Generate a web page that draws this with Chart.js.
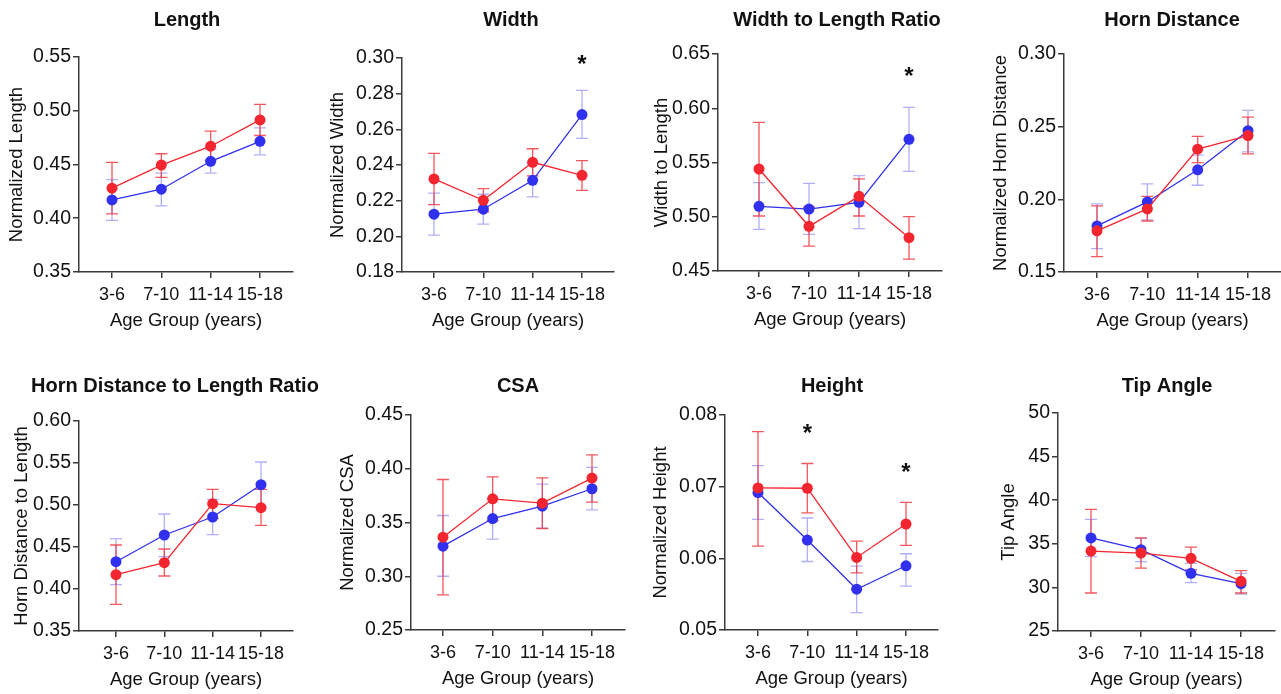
<!DOCTYPE html>
<html>
<head>
<meta charset="utf-8">
<script src="https://cdn.jsdelivr.net/npm/chart.js@4.4.1/dist/chart.umd.min.js"></script>
<style>
  html, body { margin: 0; padding: 0; background: #fff; overflow: hidden; }
  #wrap { position: relative; width: 1281px; height: 694px; overflow: hidden; }
  #wrap canvas { position: absolute; }
</style>
</head>
<body>
<div id="wrap"></div>
<script>
const ageGroups = ['3-6', '7-10', '11-14', '15-18'];

// Length
const lengthRed = [0.428, 0.4495, 0.467, 0.4915];
const lengthRedLo = [0.404, 0.438, 0.454, 0.477];
const lengthRedHi = [0.452, 0.460, 0.481, 0.506];
const lengthBlue = [0.417, 0.427, 0.453, 0.4716];
const lengthBlueLo = [0.398, 0.4116, 0.442, 0.459];
const lengthBlueHi = [0.436, 0.442, 0.464, 0.484];

// Width
const widthRed = [0.2322, 0.2202, 0.2415, 0.2342];
const widthRedLo = [0.2178, 0.2137, 0.2339, 0.2258];
const widthRedHi = [0.2465, 0.2268, 0.2491, 0.2424];
const widthBlue = [0.2124, 0.2152, 0.2314, 0.2683];
const widthBlueLo = [0.2007, 0.2068, 0.2221, 0.2549];
const widthBlueHi = [0.2242, 0.2236, 0.2407, 0.2819];
const widthStars = [null, null, null, 0.30];

// Width to length ratio
const ratioRed = [0.544, 0.4912, 0.5188, 0.4807];
const ratioRedLo = [0.5007, 0.473, 0.5007, 0.461];
const ratioRedHi = [0.587, 0.509, 0.535, 0.5001];
const ratioBlue = [0.5096, 0.5071, 0.5133, 0.5714];
const ratioBlueLo = [0.4884, 0.4838, 0.489, 0.5419];
const ratioBlueHi = [0.5314, 0.5308, 0.5379, 0.6008];
const ratioStars = [null, null, null, 0.635];

// Horn distance
const hornRed = [0.1783, 0.1934, 0.2345, 0.2439];
const hornRedLo = [0.1606, 0.1851, 0.2253, 0.2313];
const hornRedHi = [0.1955, 0.2021, 0.2433, 0.2566];
const hornBlue = [0.1817, 0.1982, 0.2203, 0.2472];
const hornBlueLo = [0.1661, 0.1858, 0.2097, 0.2327];
const hornBlueHi = [0.1969, 0.2106, 0.2304, 0.2612];

// Horn distance to length ratio
const hornRatioRed = [0.4171, 0.4313, 0.5016, 0.4968];
const hornRatioRedLo = [0.3817, 0.4155, 0.4841, 0.4758];
const hornRatioRedHi = [0.4524, 0.4476, 0.5187, 0.5187];
const hornRatioBlue = [0.4325, 0.4643, 0.4857, 0.5242];
const hornRatioBlueLo = [0.4052, 0.4385, 0.4647, 0.4972];
const hornRatioBlueHi = [0.4599, 0.4893, 0.5067, 0.5512];

// CSA
const csaRed = [0.3363, 0.372, 0.368, 0.3913];
const csaRedLo = [0.2826, 0.3516, 0.3444, 0.369];
const csaRedHi = [0.390, 0.3925, 0.3916, 0.413];
const csaBlue = [0.328, 0.3537, 0.3652, 0.3814];
const csaBlueLo = [0.300, 0.3345, 0.3447, 0.3618];
const csaBlueHi = [0.3565, 0.372, 0.3857, 0.4012];

// Height
const heightRed = [0.06983, 0.06978, 0.06012, 0.06479];
const heightRedLo = [0.06171, 0.06633, 0.05798, 0.0618];
const heightRedHi = [0.07767, 0.07323, 0.06241, 0.06782];
const heightBlue = [0.06918, 0.06255, 0.05569, 0.05896];
const heightBlueLo = [0.06544, 0.05956, 0.05243, 0.05611];
const heightBlueHi = [0.07295, 0.06563, 0.05891, 0.06064];
const heightStars = [null, 0.0783, null, 0.0729];

// Tip angle
const tipRed = [34.17, 33.94, 33.33, 30.70];
const tipRedLo = [29.36, 32.22, 32.0, 29.36];
const tipRedHi = [38.95, 35.67, 34.63, 31.92];
const tipBlue = [35.67, 34.33, 31.61, 30.43];
const tipBlueLo = [33.52, 32.95, 30.54, 29.24];
const tipBlueHi = [37.81, 35.63, 32.76, 31.61];

const FONT = '"Liberation Sans", Arial, Helvetica, sans-serif';
const RED = 'rgb(243, 38, 48)';
const BLUE = 'rgb(48, 48, 238)';
const RED_ERR = 'rgba(240, 45, 55, 0.8)';
const BLUE_ERR = 'rgba(80, 80, 245, 0.45)';
const AXIS = '#3a3a3a';
const TEXT = '#111';

const Y_W = 75;   // fixed width of the y axis box
const X_H = 64;   // fixed height of the x axis box

// layout of the 8 panels: axis x, first/last category pixel, right end, plot top/bottom
const panels = [
  { title: 'Length', yTitle: 'Normalized Length', min: 0.35, max: 0.55, step: 0.05, dec: 2,
    red: [lengthRed, lengthRedLo, lengthRedHi], blue: [lengthBlue, lengthBlueLo, lengthBlueHi],
    row: 0, axis: 79, first: 112, last: 260, end: 293, top: 57, bottom: 272, yTitleX: 17, titleX: 187 },
  { title: 'Width', yTitle: 'Normalized Width', min: 0.18, max: 0.30, step: 0.02, dec: 2,
    red: [widthRed, widthRedLo, widthRedHi], blue: [widthBlue, widthBlueLo, widthBlueHi], stars: widthStars,
    row: 0, axis: 402, first: 434, last: 582, end: 614, top: 58, bottom: 272, yTitleX: 338, titleX: 511 },
  { title: 'Width to Length Ratio', yTitle: 'Width to Length', min: 0.45, max: 0.65, step: 0.05, dec: 2,
    red: [ratioRed, ratioRedLo, ratioRedHi], blue: [ratioBlue, ratioBlueLo, ratioBlueHi], stars: ratioStars,
    row: 0, axis: 718, first: 759, last: 909, end: 942, top: 54, bottom: 271, yTitleX: 662, titleX: 837 },
  { title: 'Horn Distance', yTitle: 'Normalized Horn Distance', min: 0.15, max: 0.30, step: 0.05, dec: 2,
    red: [hornRed, hornRedLo, hornRedHi], blue: [hornBlue, hornBlueLo, hornBlueHi],
    row: 0, axis: 1064, first: 1097, last: 1248, end: 1281, top: 54, bottom: 272, yTitleX: 1001, titleX: 1172 },
  { title: 'Horn Distance to Length Ratio', yTitle: 'Horn Distance to Length', min: 0.35, max: 0.60, step: 0.05, dec: 2,
    red: [hornRatioRed, hornRatioRedLo, hornRatioRedHi], blue: [hornRatioBlue, hornRatioBlueLo, hornRatioBlueHi],
    row: 1, axis: 79, first: 116, last: 261, end: 293, top: 421, bottom: 631, yTitleX: 22, titleX: 175 },
  { title: 'CSA', yTitle: 'Normalized CSA', min: 0.25, max: 0.45, step: 0.05, dec: 2,
    red: [csaRed, csaRedLo, csaRedHi], blue: [csaBlue, csaBlueLo, csaBlueHi],
    row: 1, axis: 411, first: 443, last: 592, end: 625, top: 415, bottom: 630, yTitleX: 348, titleX: 518 },
  { title: 'Height', yTitle: 'Normalized Height', min: 0.05, max: 0.08, step: 0.01, dec: 2,
    red: [heightRed, heightRedLo, heightRedHi], blue: [heightBlue, heightBlueLo, heightBlueHi], stars: heightStars,
    row: 1, axis: 725, first: 758, last: 906, end: 938, top: 415, bottom: 630, yTitleX: 661, titleX: 832 },
  { title: 'Tip Angle', yTitle: 'Tip Angle', min: 25, max: 50, step: 5, dec: 0,
    red: [tipRed, tipRedLo, tipRedHi], blue: [tipBlue, tipBlueLo, tipBlueHi],
    row: 1, axis: 1058, first: 1091, last: 1241, end: 1275, top: 413, bottom: 631, yTitleX: 1009, titleX: 1167 },
];

const rowTop = [0, 347];
const rowTitleY = [20, 39];

function overlay(p, canvasLeft) {
  return {
    id: 'overlay',
    beforeDatasetsDraw(chart) {
      const { ctx, scales: { x, y } } = chart;
      ctx.save();
      ctx.lineWidth = 1.3;
      [[p.blue, BLUE_ERR], [p.red, RED_ERR]].forEach(([s, color]) => {
        ctx.strokeStyle = color;
        s[0].forEach((_, i) => {
          const px = x.getPixelForValue(i);
          const lo = y.getPixelForValue(s[1][i]);
          const hi = y.getPixelForValue(s[2][i]);
          ctx.beginPath();
          ctx.moveTo(px, lo); ctx.lineTo(px, hi);
          ctx.moveTo(px - 6, lo); ctx.lineTo(px + 6, lo);
          ctx.moveTo(px - 6, hi); ctx.lineTo(px + 6, hi);
          ctx.stroke();
        });
      });
      ctx.restore();
    },
    afterDraw(chart) {
      const { ctx, scales: { x, y } } = chart;
      ctx.save();
      ctx.fillStyle = TEXT;
      ctx.textAlign = 'center';
      ctx.textBaseline = 'middle';
      ctx.font = 'bold 20px ' + FONT;
      ctx.fillText(p.title, p.titleX - canvasLeft, rowTitleY[p.row]);
      if (p.stars) {
        ctx.font = 'bold 24px ' + FONT;
        ctx.textBaseline = 'alphabetic';
        p.stars.forEach((v, i) => {
          if (v == null) return;
          ctx.fillText('*', x.getPixelForValue(i), y.getPixelForValue(v) + 24 * 0.58);
        });
      }
      ctx.restore();
    }
  };
}

const wrap = document.getElementById('wrap');

panels.forEach(p => {
  const top = rowTop[p.row];
  const left = p.axis - Y_W;
  const right = p.end + 30;
  const canvas = document.createElement('canvas');
  canvas.width = right - left;
  canvas.height = p.bottom + X_H - top;
  canvas.style.left = left + 'px';
  canvas.style.top = top + 'px';
  wrap.appendChild(canvas);

  const sp = (p.last - p.first) / 3;
  const xMin = -(p.first - p.axis) / sp;
  const xMax = 3 + (p.end - p.last) / sp;

  const series = (vals, color) => ({
    data: vals.map((v, i) => ({ x: i, y: v })),
    borderColor: color,
    backgroundColor: color,
    borderWidth: 1.3,
    pointRadius: 5.5,
    pointBorderWidth: 0,
    pointBackgroundColor: color,
    tension: 0
  });

  new Chart(canvas, {
    type: 'line',
    data: { datasets: [series(p.red[0], RED), series(p.blue[0], BLUE)] },
    options: {
      responsive: false,
      animation: false,
      devicePixelRatio: 1,
      layout: { padding: { top: p.top - top, right: right - p.end, bottom: 0, left: 0 } },
      plugins: { legend: { display: false }, tooltip: { enabled: false } },
      scales: {
        x: {
          type: 'linear',
          min: xMin,
          max: xMax,
          afterBuildTicks: s => { s.ticks = ageGroups.map((_, i) => ({ value: i })); },
          afterFit: s => { s.height = X_H; },
          ticks: {
            callback: v => ageGroups[v],
            font: { family: FONT, size: 18 },
            color: TEXT,
            padding: 6,
            maxRotation: 0,
            autoSkip: false
          },
          grid: { drawOnChartArea: false, tickLength: 6, color: AXIS, lineWidth: 1.5 },
          border: { color: AXIS, width: 1.5 },
          title: {
            display: true,
            text: 'Age Group (years)',
            font: { family: FONT, size: 18.5 },
            color: TEXT,
            padding: { top: 0, bottom: 4 }
          }
        },
        y: {
          min: p.min,
          max: p.max,
          afterFit: s => { s.width = Y_W; },
          ticks: {
            stepSize: p.step,
            callback: v => Number(v).toFixed(p.dec),
            font: { family: FONT, size: 19.5 },
            color: TEXT,
            padding: 2
          },
          grid: { drawOnChartArea: false, tickLength: 6, color: AXIS, lineWidth: 1.5 },
          border: { color: AXIS, width: 1.5 },
          title: {
            display: true,
            text: p.yTitle,
            font: { family: FONT, size: 18.5 },
            color: TEXT,
            padding: { top: Math.max(0, p.yTitleX - left - 11.1), bottom: 0 }
          }
        }
      }
    },
    plugins: [overlay(p, left)]
  });
});
</script>
</body>
</html>
